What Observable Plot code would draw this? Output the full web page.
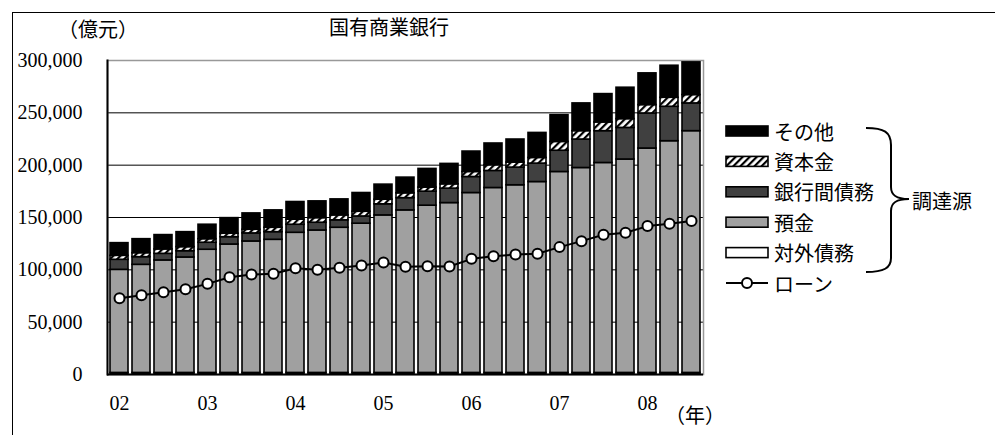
<!DOCTYPE html>
<html>
<head>
<meta charset="utf-8">
<script src="https://cdn.jsdelivr.net/npm/d3@7"></script>
<script src="https://cdn.jsdelivr.net/npm/@observablehq/plot@0.6"></script>
<style>
  html, body { margin: 0; padding: 0; background: #fff; }
  #wrap { position: relative; width: 995px; height: 435px; overflow: hidden; background: #fff; }
  #border { position: absolute; left: 12px; top: 12px; width: 990px; height: 430px;
            border-left: 1.5px solid #000; border-top: 1.5px solid #000; }
  #chart { position: absolute; left: 0; top: 0; }
  #chart svg, #chart svg text { font-family: "Liberation Serif", "Times New Roman", serif !important; }
  #overlay { position: absolute; left: 0; top: 0; pointer-events: none; }
</style>
</head>
<body>
<div id="wrap">
  <div id="border"></div>
  <div id="chart"></div>
  <svg id="overlay" width="995" height="435"></svg>
</div>
<script>
// Quarterly periods, 2002 Q1 – 2008 Q3
const periods = [
  "02Q1","02Q2","02Q3","02Q4","03Q1","03Q2","03Q3","03Q4",
  "04Q1","04Q2","04Q3","04Q4","05Q1","05Q2","05Q3","05Q4",
  "06Q1","06Q2","06Q3","06Q4","07Q1","07Q2","07Q3","07Q4",
  "08Q1","08Q2","08Q3"
];
const yearLabels = ["02","03","04","05","06","07","08"];

// Funding sources (億元)
const foreignDebt = [1500,1500,1500,1500,1500,1500,1500,1500,1500,1500,1500,1500,1500,1500,
                     1500,1500,1500,1500,1500,1500,1500,1500,1500,1500,1500,1500,1500];
const deposits    = [98500,103300,107500,110300,117700,122700,125600,127200,133900,136100,
                     138700,142600,150500,155300,159800,162300,171900,176700,179300,182400,
                     192000,195800,200600,203900,214400,221400,231000];
const interbank   = [9600,7300,6300,6000,6700,7000,7700,7300,7700,7400,7100,6900,10600,11700,
                     13400,13800,15300,16300,16900,17600,20300,27200,30400,30200,33500,32900,26500];
const capital     = [3800,3800,4200,3900,3400,3300,3500,4200,4800,4400,4700,4500,4400,4600,
                     3900,4100,4800,5400,4800,5400,8400,8000,8300,8400,8000,8600,8000];
const other       = [12100,13400,13700,14300,13800,14900,15600,16600,16900,16000,15300,17900,
                     14400,15000,17800,19500,19500,20800,22000,23900,25600,26500,27100,30000,
                     30300,30600,31200];
// Loans (億元)
const loans       = [72800,75700,78500,81400,86600,92900,95500,96200,101500,100000,101900,
                     104100,107000,102900,103500,103200,110500,113000,114700,115300,121700,
                     127400,133500,135400,141800,144100,146600];

const yTicks = [0,50000,100000,150000,200000,250000,300000];

// Stack order from the bottom up, and legend order from the top down
const stackOrder = ["対外債務","預金","銀行間債務","資本金","その他"];
const seriesValues = {
  "対外債務": foreignDebt, "預金": deposits, "銀行間債務": interbank,
  "資本金": capital, "その他": other
};
const fillOf = {
  "対外債務": "#ffffff", "預金": "#a0a0a0", "銀行間債務": "#404040",
  "資本金": "url(#hatch)", "その他": "#000000"
};
const legendOrder = stackOrder.slice().reverse();
const loanName = "ローン";
const groupName = "調達源";
const title = "国有商業銀行";
const yUnit = "（億元）";
const xUnit = "（年）";

const rows = [];
periods.forEach((p, i) => {
  stackOrder.forEach(s => rows.push({period: p, series: s, value: seriesValues[s][i]}));
});
const loanRows = periods.map((p, i) => ({period: p, value: loans[i]}));

// Hatch pattern shared by the bars and the legend
const overlay = d3.select("#overlay");
const pat = overlay.append("defs").append("pattern")
  .attr("id", "hatch").attr("patternUnits", "userSpaceOnUse")
  .attr("width", 5).attr("height", 5).attr("patternTransform", "rotate(45)");
pat.append("rect").attr("width", 5).attr("height", 5).attr("fill", "#fff");
pat.append("rect").attr("width", 2.2).attr("height", 5).attr("fill", "#000");

const serif = "Liberation Serif";
const cjk = "'Noto Sans CJK JP', sans-serif";

const chart = Plot.plot({
  width: 995,
  height: 435,
  marginLeft: 107,
  marginRight: 292,
  marginTop: 60,
  marginBottom: 61,
  style: {fontSize: "20px", color: "#000", background: "transparent"},
  x: {type: "band", domain: periods, paddingInner: 0.18, paddingOuter: 0.09, label: null},
  y: {domain: [0, 300000], label: null},
  color: {type: "ordinal", domain: stackOrder, range: stackOrder.map(s => fillOf[s])},
  marks: [
    Plot.ruleY(yTicks.slice(1, -1), {stroke: "#000", strokeWidth: 1}),
    Plot.frame({stroke: "#999", strokeWidth: 1.5}),
    Plot.barY(rows, Plot.stackY({
      x: "period", y: "value", fill: "series", order: stackOrder,
      stroke: "#000", strokeWidth: 1.6
    })),
    Plot.line(loanRows, {x: "period", y: "value", stroke: "#000", strokeWidth: 2}),
    Plot.dot(loanRows, {x: "period", y: "value", r: 5, fill: "#fff", stroke: "#000", strokeWidth: 2}),
    Plot.ruleY([0], {stroke: "#000", strokeWidth: 2}),
    Plot.frame({anchor: "left", stroke: "#000", strokeWidth: 2}),
    Plot.axisY({ticks: yTicks, tickFormat: d3.format(","), tickSize: 0, tickPadding: 25,
                fontSize: 20, fontFamily: serif}),
    Plot.axisX({ticks: periods.filter(p => p.endsWith("Q1")),
                tickFormat: p => yearLabels.find(y => p.startsWith(y)),
                tickSize: 0, tickPadding: 21, fontSize: 20, fontFamily: serif})
  ]
});
document.getElementById("chart").appendChild(chart);

// Titles and units
overlay.append("text").text(title)
  .attr("x", 389).attr("y", 26).attr("text-anchor", "middle")
  .attr("dominant-baseline", "central").style("font", `20px ${cjk}`);
overlay.append("text").text(yUnit)
  .attr("x", 58).attr("y", 28).attr("dominant-baseline", "central").style("font", `20px ${cjk}`);
overlay.append("text").text(xUnit)
  .attr("x", 665).attr("y", 414).attr("dominant-baseline", "central").style("font", `20px ${cjk}`);

// Legend
const lg = overlay.append("g");
const rowY = i => 131 + i * 30.4;
legendOrder.forEach((s, i) => {
  lg.append("rect").attr("x", 726).attr("y", rowY(i) - 5).attr("width", 42).attr("height", 10)
    .attr("fill", fillOf[s]).attr("stroke", "#000").attr("stroke-width", 1.6);
  lg.append("text").text(s).attr("x", 774).attr("y", rowY(i))
    .attr("dominant-baseline", "central").style("font", `20px ${cjk}`);
});
const li = legendOrder.length;
lg.append("line").attr("x1", 726).attr("x2", 768).attr("y1", rowY(li)).attr("y2", rowY(li))
  .attr("stroke", "#000").attr("stroke-width", 2);
lg.append("circle").attr("cx", 747).attr("cy", rowY(li)).attr("r", 5)
  .attr("fill", "#fff").attr("stroke", "#000").attr("stroke-width", 2);
lg.append("text").text(loanName).attr("x", 774).attr("y", rowY(li))
  .attr("dominant-baseline", "central").style("font", `20px ${cjk}`);

// Brace grouping the funding sources
lg.append("path")
  .attr("d", "M866,128 C884,128 891,132 891,145 L891,187 C891,195 896,199 909,199 " +
             "C896,199 891,203 891,211 L891,258 C891,268 884,272 866,272")
  .attr("fill", "none").attr("stroke", "#000").attr("stroke-width", 2);
lg.append("text").text(groupName).attr("x", 912).attr("y", 200)
  .attr("dominant-baseline", "central").style("font", `20px ${cjk}`);
</script>
</body>
</html>
